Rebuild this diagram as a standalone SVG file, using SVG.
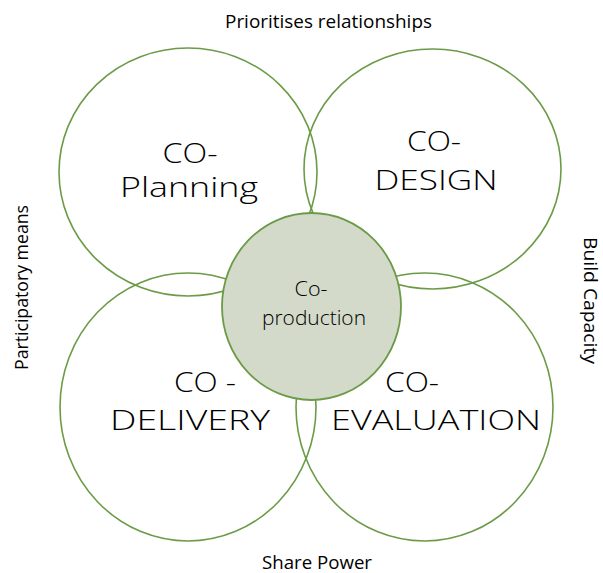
<svg xmlns="http://www.w3.org/2000/svg" width="603" height="573" viewBox="0 0 603 573">
  <style>
    .ring { fill: none; stroke: #6B9B47; stroke-width: 1.6; }
    .core { fill: #D3DAC9; stroke: #6B9B47; stroke-width: 1.8; }
    .hand { font-family: "Open Sans", "Liberation Sans", sans-serif; font-weight: 300; fill: #000; text-anchor: middle; }
    .big { font-size: 27px; }
    .small { font-size: 21px; }
    .side { font-family: "Open Sans", "Liberation Sans", sans-serif; font-size: 17.5px; fill: #000; text-anchor: middle; }
  </style>
  <rect width="603" height="573" fill="#fff"/>

  <g id="co-planning">
    <ellipse class="ring" cx="188" cy="172" rx="129" ry="124"/>
    <text class="hand big" x="190" y="163" textLength="55" lengthAdjust="spacingAndGlyphs">CO-</text>
    <text class="hand big" x="189" y="197" textLength="138" lengthAdjust="spacingAndGlyphs">Planning</text>
  </g>

  <g id="co-design">
    <ellipse class="ring" cx="432.5" cy="169" rx="128.5" ry="120"/>
    <text class="hand big" x="434" y="151" textLength="54" lengthAdjust="spacingAndGlyphs">CO-</text>
    <text class="hand big" x="436" y="190" textLength="123" lengthAdjust="spacingAndGlyphs">DESIGN</text>
  </g>

  <g id="co-delivery">
    <ellipse class="ring" cx="188" cy="407" rx="128" ry="134"/>
    <text class="hand big" x="205" y="392" textLength="62" lengthAdjust="spacingAndGlyphs">CO -</text>
    <text class="hand big" x="190" y="430" textLength="160" lengthAdjust="spacingAndGlyphs">DELIVERY</text>
  </g>

  <g id="co-evaluation">
    <ellipse class="ring" cx="424.5" cy="407" rx="128.5" ry="134"/>
    <text class="hand big" x="412" y="392" textLength="54" lengthAdjust="spacingAndGlyphs">CO-</text>
    <text class="hand big" x="436" y="430" textLength="210" lengthAdjust="spacingAndGlyphs">EVALUATION</text>
  </g>

  <g id="co-production">
    <ellipse class="core" cx="311.5" cy="306.5" rx="89.5" ry="93.5"/>
    <text class="hand small" x="311" y="296" textLength="33" lengthAdjust="spacingAndGlyphs">Co-</text>
    <text class="hand small" x="314" y="325" textLength="104" lengthAdjust="spacingAndGlyphs">production</text>
  </g>

  <g id="edge-labels">
    <text class="side" x="328.5" y="28" textLength="207" lengthAdjust="spacingAndGlyphs">Prioritises relationships</text>
    <text class="side" x="317" y="569" textLength="110" lengthAdjust="spacingAndGlyphs">Share Power</text>
    <text class="side" transform="translate(584 300.5) rotate(90)" textLength="127" lengthAdjust="spacingAndGlyphs">Build Capacity</text>
    <text class="side" transform="translate(28 287.5) rotate(-90)" textLength="165" lengthAdjust="spacingAndGlyphs">Participatory means</text>
  </g>
</svg>
